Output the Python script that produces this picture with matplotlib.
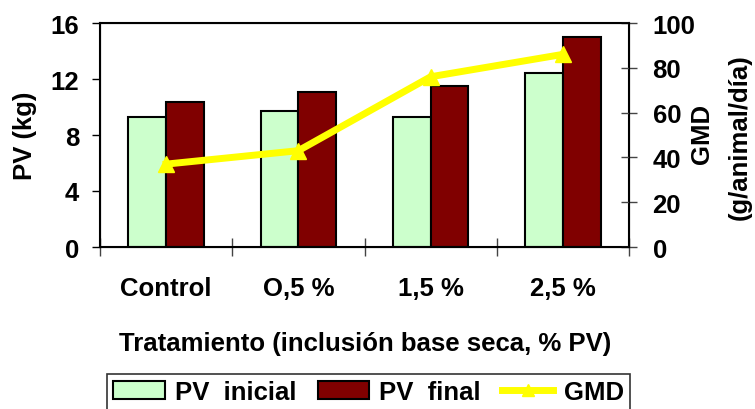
import matplotlib
matplotlib.use("Agg")
import matplotlib.pyplot as plt
import numpy as np

categories = ["Control", "O,5 %", "1,5 %", "2,5 %"]
pv_inicial = [9.3, 9.75, 9.3, 12.45]
pv_final = [10.35, 11.05, 11.5, 15.0]
gmd = [37, 43, 76, 86]

plt.rcParams['font.family'] = ['Liberation Sans', 'DejaVu Sans']
plt.rcParams['font.weight'] = 'bold'
fs = 18.5

fig = plt.figure(figsize=(7.55, 4.1), dpi=100)
ax = fig.add_axes([100/755, 1-248/410, (629-100)/755, (248-24)/410])
x = np.arange(len(categories))
w = 0.285
b1 = ax.bar(x - w/2, pv_inicial, w, color='#CCFFCC', edgecolor='black', linewidth=1.5, label='PV  inicial')
b2 = ax.bar(x + w/2, pv_final, w, color='#800000', edgecolor='black', linewidth=1.5, label='PV  final')
ax.set_xlim(-0.5, len(categories) - 0.5)
ax.set_ylim(0, 16)
ax.set_yticks([0, 4, 8, 12, 16])
ax.set_xticks(np.arange(-0.5, len(categories), 1.0))
ax.set_xticklabels([])
ax.set_xticks(x, minor=True)
ax.set_xticklabels(categories, minor=True, fontsize=fs, fontweight='bold')
ax.tick_params(axis='x', which='minor', length=0, pad=21)
ax.tick_params(axis='x', which='major', direction='inout', length=13, width=1, color='#444444')
ax.tick_params(axis='y', direction='out', length=6, width=1, labelsize=fs, pad=9)
for lab in ax.get_yticklabels():
    lab.set_fontweight('bold')
for s in ax.spines.values():
    s.set_linewidth(1.5)

ax2 = ax.twinx()
ln, = ax2.plot(x, gmd, color='#FFFF00', linewidth=5, marker='^', markersize=12,
               markeredgecolor='#FFFF00', label='GMD')
ax2.set_ylim(0, 100)
ax2.set_yticks([0, 20, 40, 60, 80, 100])
ax2.tick_params(axis='y', direction='inout', length=12, width=1, color='#444444', labelsize=fs, pad=11)
for lab in ax2.get_yticklabels():
    lab.set_fontweight('bold')

fig.text(25/755, 1-136/410, 'PV (kg)', rotation=90, ha='center', va='center', fontsize=fs, fontweight='bold')
fig.text(702/755, 1-134/410, 'GMD', rotation=90, ha='center', va='center', fontsize=fs, fontweight='bold')
fig.text(740/755, 1-137/410, '(g/animal/día)', rotation=90, ha='center', va='center', fontsize=fs, fontweight='bold')
fig.text(365/755, 1-344/410, 'Tratamiento (inclusión base seca, % PV)', ha='center', va='center',
         fontsize=fs, fontweight='bold')

leg = fig.legend(handles=[b1, b2, ln], loc='upper left', bbox_to_anchor=(107/755, 1-375/410),
                 ncol=3, frameon=True, fancybox=False, edgecolor='black', borderaxespad=0,
                 handlelength=2.0, handletextpad=0.4, columnspacing=0.82, borderpad=0.25,
                 markerscale=0.7, prop={'weight': 'bold', 'size': fs})
leg.get_frame().set_linewidth(1.2)

fig.savefig('out.png', dpi=100)
